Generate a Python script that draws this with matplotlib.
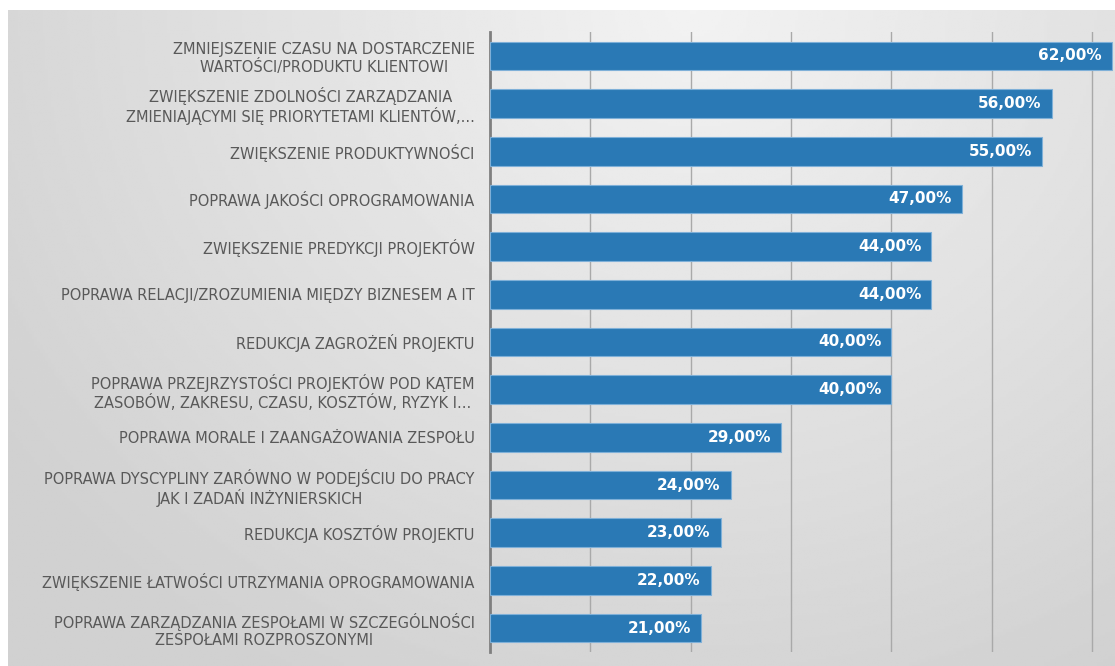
import numpy as np
import matplotlib
matplotlib.use("Agg")
import matplotlib.pyplot as plt

# data, top to bottom as in the chart
labels = [
    "ZMNIEJSZENIE CZASU NA DOSTARCZENIE\nWARTOŚCI/PRODUKTU KLIENTOWI",
    "ZWIĘKSZENIE ZDOLNOŚCI ZARZĄDZANIA\nZMIENIAJĄCYMI SIĘ PRIORYTETAMI KLIENTÓW,...",
    "ZWIĘKSZENIE PRODUKTYWNOŚCI",
    "POPRAWA JAKOŚCI OPROGRAMOWANIA",
    "ZWIĘKSZENIE PREDYKCJI PROJEKTÓW",
    "POPRAWA RELACJI/ZROZUMIENIA MIĘDZY BIZNESEM A IT",
    "REDUKCJA ZAGROŻEŃ PROJEKTU",
    "POPRAWA PRZEJRZYSTOŚCI PROJEKTÓW POD KĄTEM\nZASOBÓW, ZAKRESU, CZASU, KOSZTÓW, RYZYK I...",
    "POPRAWA MORALE I ZAANGAŻOWANIA ZESPOŁU",
    "POPRAWA DYSCYPLINY ZARÓWNO W PODEJŚCIU DO PRACY\nJAK I ZADAŃ INŻYNIERSKICH",
    "REDUKCJA KOSZTÓW PROJEKTU",
    "ZWIĘKSZENIE ŁATWOŚCI UTRZYMANIA OPROGRAMOWANIA",
    "POPRAWA ZARZĄDZANIA ZESPOŁAMI W SZCZEGÓLNOŚCI\nZESPOŁAMI ROZPROSZONYMI",
]
values = [62, 56, 55, 47, 44, 44, 40, 40, 29, 24, 23, 22, 21]
grid_ticks = [10, 20, 30, 40, 50, 60]

W, H = 1115, 666
fig = plt.figure(figsize=(W / 100, H / 100), dpi=100, facecolor="white")

# gray gradient panel behind the chart
bg = fig.add_axes([8 / W, 0, 1 - 8 / W, (H - 10) / H])
gx, gy = np.meshgrid(np.linspace(0, 1, 400), np.linspace(0, 1, 240))
d = np.sqrt(((gx - 0.62) / 0.75) ** 2 + ((gy - 0.0) / 1.15) ** 2)
shade = 0.95 - 0.13 * np.clip(d, 0, 1)
bg.imshow(shade, cmap="gray", vmin=0, vmax=1, aspect="auto", extent=[0, 1, 1, 0])
bg.set_axis_off()

ax = fig.add_axes([490 / W, (H - 652) / H, 1 - 490 / W, 620 / H])
ax.patch.set_alpha(0)

y = np.arange(len(values))
ax.barh(y, values, height=0.6, color="#2a79b5", edgecolor="#7fb0d8", linewidth=0.8, zorder=3)
ax.set_ylim(len(values) - 0.5, -0.5)
ax.set_xlim(0, 62.3)

for xv in grid_ticks:
    ax.axvline(xv, color="#a9a9a9", linewidth=1, zorder=1)

for yi, v in zip(y, values):
    ax.text(v - 1.0, yi, f"{v},00%", ha="right", va="center", color="white",
            fontsize=11, fontweight="bold", zorder=4)

ax.set_yticks(y)
ax.set_yticklabels(labels, fontsize=10.5, color="#595959", linespacing=1.15)
for t in ax.get_yticklabels():
    t.set_multialignment("center")
ax.tick_params(axis="y", length=0, pad=11)
ax.set_xticks([])
for s in ["top", "right", "bottom"]:
    ax.spines[s].set_visible(False)
ax.spines["left"].set_color("#7f7f7f")
ax.spines["left"].set_linewidth(2)

fig.savefig("out.png", dpi=100, facecolor="white")
